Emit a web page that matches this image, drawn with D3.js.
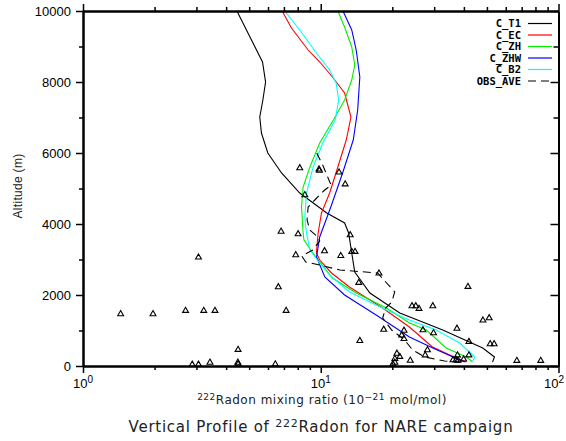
<!DOCTYPE html>
<html>
<head>
<meta charset="utf-8">
<script src="https://cdn.jsdelivr.net/npm/d3@7"></script>
<style>
  body { margin: 0; background: #fff; }
  svg { display: block; }
</style>
</head>
<body>
<svg id="chart" width="566" height="441"></svg>
<script>
// Perfiles de los modelos: altitud (m) y razón de mezcla (1e-21 mol/mol)
const t1Alt = [10000, 8563, 8000, 7493, 7014, 6563, 6000, 5437, 4873, 4310, 4028, 3746, 3183, 2648, 2056, 1493, 1014, 507, 254, 113];
const t1Val = [4.44, 5.69, 5.86, 5.71, 5.54, 5.63, 5.99, 6.84, 8.16, 10.6, 12.6, 13.1, 13.5, 13.9, 16.1, 21.5, 32.6, 48.0, 53.8, 52.8];

const ecAlt = [10000, 9521, 8901, 8563, 8141, 7690, 7014, 6366, 5606, 4873, 4310, 3746, 3183, 2986, 2620, 2225, 1634, 1099, 535, 225, 113];
const ecVal = [6.88, 7.53, 8.85, 9.91, 11.2, 12.6, 13.4, 12.8, 11.8, 10.9, 10.07, 9.75, 9.59, 9.9, 11.1, 13.2, 18.2, 23.6, 29.5, 37.2, 41.0];

const zhAlt = [10000, 9549, 8986, 8479, 8056, 7493, 6930, 6282, 5606, 5042, 4479, 3746, 3549, 3183, 2479, 2056, 1634, 1211, 1014, 507, 254, 113];
const zhVal = [11.8, 12.6, 13.5, 13.9, 13.5, 12.6, 11.3, 9.9, 9.0, 8.43, 8.30, 8.43, 8.5, 9.26, 11.2, 14.1, 18.9, 23.6, 27.8, 33.7, 41.0, 43.5];

const zhwAlt = [10000, 9465, 8901, 8141, 7211, 6366, 5465, 4535, 3634, 3070, 2507, 2000, 1437, 817, 507, 254, 113];
const zhwVal = [12.4, 13.5, 14.1, 14.6, 14.3, 13.7, 12.4, 11.1, 9.9, 9.6, 10.4, 12.6, 17.1, 23.6, 29.6, 36.0, 40.3];

const b2Alt = [10000, 9465, 8817, 8338, 7972, 7493, 6930, 6282, 5606, 4873, 4197, 3746, 3268, 2901, 2563, 2085, 1577, 1296, 1014, 648, 254, 113];
const b2Val = [7.06, 8.16, 9.59, 10.9, 11.6, 11.9, 11.5, 10.2, 9.29, 8.71, 8.57, 8.71, 9.0, 9.9, 10.9, 13.2, 18.9, 23.6, 30.6, 38.4, 44.4, 43.5];

// Promedio de observaciones
const obsAlt = [6000, 5662, 5183, 5099, 4958, 4676, 4479, 4113, 3831, 3634, 3521, 3268, 3099, 2930, 2845, 2704, 2620, 2366, 2085, 1803, 1634, 1352, 1014, 732, 451, 254, 141, 99];
const obsVal = [9.62, 10.19, 10.91, 11.09, 10.39, 9.44, 8.85, 8.76, 8.99, 9.71, 9.90, 9.25, 8.32, 8.65, 9.90, 12.02, 17.36, 18.76, 20.47, 19.88, 18.76, 18.22, 19.88, 22.54, 24.35, 27.35, 33.19, 39.12];

// Observaciones individuales (triángulos)
const ptVal = [1.44, 1.97, 2.70, 3.22, 3.59, 3.06, 4.49, 2.88, 3.06, 3.42, 4.48, 4.49, 6.44, 6.63, 7.15, 6.81, 8.03, 7.85,
  8.16, 9.83, 9.87, 11.94, 12.67, 8.57, 13.30, 10.37, 12.14, 13.50, 13.94, 17.58, 14.45, 41.6, 24.2, 25.1, 25.9, 29.6,
  48.1, 51.1, 37.4, 18.4, 22.4, 26.9, 29.8, 21.9, 22.4, 14.6, 42.0, 51.6, 53.6, 28.1, 20.9, 21.5, 27.5, 37.6, 42.0,
  20.5, 23.8, 36.0, 37.1, 37.8, 39.9, 20.1, 66.8, 84.2, 20.5];
const ptAlt = [1465, 1465, 1558, 1558, 1558, 3062, 459, 42, 42, 99, 99, 56, 51, 2225, 1558, 3789, 3718, 3127,
  5577, 5541, 5507, 5456, 5121, 4817, 3690, 3239, 3104, 3220, 3220, 2611, 2346, 2234, 1690, 1690, 1614, 1690,
  1287, 1352, 1056, 1028, 1000, 1014, 930, 865, 766, 710, 682, 620, 620, 451, 352, 262, 304, 304, 304,
  206, 155, 169, 169, 155, 189, 56, 149, 149, 99];

const seriesNames = ["C_T1", "C_EC", "C_ZH", "C_ZHW", "C_B2", "OBS_AVE"];
const seriesColors = ["#000000", "#ff0000", "#00ee00", "#0000ff", "#00ffff", "#000000"];

const yMajor = [0, 2000, 4000, 6000, 8000, 10000];
const yMinor = [1000, 3000, 5000, 7000, 9000];
const xMajor = [1, 10, 100];
const xMinor = [2, 3, 4, 5, 6, 7, 8, 9, 20, 30, 40, 50, 60, 70, 80, 90];

const svg = d3.select("#chart");
const pLeft = 83, pRight = 558.5, pTop = 11, pBottom = 366;

const x = d3.scaleLog().domain([1, 100]).range([pLeft, pRight]);
const y = d3.scaleLinear().domain([0, 10000]).range([pBottom, pTop]);

const series = [
  [t1Alt, t1Val], [ecAlt, ecVal], [zhAlt, zhVal], [zhwAlt, zhwVal], [b2Alt, b2Val], [obsAlt, obsVal]
];

const line = d3.line().x(d => x(d[1])).y(d => y(d[0]));

svg.append("clipPath").attr("id", "clip")
  .append("rect").attr("x", pLeft).attr("y", pTop).attr("width", pRight - pLeft).attr("height", pBottom - pTop);

const plot = svg.append("g").attr("clip-path", "url(#clip)");

series.forEach((s, i) => {
  const pts = s[0].map((a, k) => [a, s[1][k]]);
  plot.append("path")
    .attr("d", line(pts))
    .attr("fill", "none")
    .attr("stroke", seriesColors[i])
    .attr("stroke-width", 1.1)
    .attr("stroke-dasharray", i === 5 ? "8,5" : null);
});

// Triángulos
const tri = d3.symbol().type(d3.symbolTriangle).size(15);
plot.selectAll("path.obs")
  .data(ptVal.map((v, k) => [ptAlt[k], v]))
  .enter()
  .append("path")
  .attr("class", "obs")
  .attr("d", tri)
  .attr("transform", d => `translate(${x(d[1])},${y(d[0])})`)
  .attr("fill", "none")
  .attr("stroke", "#000")
  .attr("stroke-width", 1.1);

// Ejes
function styleAxis(g) {
  g.select(".domain").attr("stroke-width", 2);
  g.selectAll(".tick line").attr("stroke-width", 1.5);
}

svg.append("g").attr("transform", `translate(${pLeft},0)`)
  .call(d3.axisLeft(y).tickValues(yMinor).tickSize(4).tickSizeOuter(0).tickFormat(""))
  .call(styleAxis);
svg.append("g").attr("transform", `translate(${pLeft},0)`)
  .call(d3.axisLeft(y).tickValues(yMajor).tickSize(7).tickSizeOuter(0).tickPadding(5).tickFormat(d3.format("d")))
  .call(styleAxis)
  .selectAll("text")
  .attr("font-family", "Liberation Sans, Arial, sans-serif")
  .attr("font-size", 13)
  .attr("fill", "#000");

svg.append("g").attr("transform", `translate(${pRight},0)`)
  .call(d3.axisRight(y).tickValues(yMinor).tickSize(-5).tickSizeOuter(0).tickFormat(""))
  .call(styleAxis);
svg.append("g").attr("transform", `translate(${pRight},0)`)
  .call(d3.axisRight(y).tickValues(yMajor).tickSize(-8).tickSizeOuter(0).tickFormat(""))
  .call(styleAxis);

svg.append("g").attr("transform", `translate(0,${pTop})`)
  .call(d3.axisTop(x).tickValues(xMinor).tickSize(4).tickSizeOuter(0).tickFormat(""))
  .call(styleAxis);
svg.append("g").attr("transform", `translate(0,${pTop})`)
  .call(d3.axisTop(x).tickValues(xMajor).tickSize(7).tickSizeOuter(0).tickFormat(""))
  .call(styleAxis);

svg.append("g").attr("transform", `translate(0,${pBottom})`)
  .call(d3.axisBottom(x).tickValues(xMinor).tickSize(4).tickSizeOuter(0).tickFormat(""))
  .call(styleAxis);
svg.append("g").attr("transform", `translate(0,${pBottom})`)
  .call(d3.axisBottom(x).tickValues(xMajor).tickSize(7).tickSizeOuter(0).tickFormat(""))
  .call(styleAxis);

// Etiquetas del eje x con exponente (la última se ajusta para no salir del borde)
xMajor.forEach(v => {
  const px = Math.min(x(v), 554);
  const t = svg.append("text")
    .attr("x", px)
    .attr("y", 388)
    .attr("text-anchor", "middle")
    .attr("font-family", "Liberation Sans, Arial, sans-serif")
    .attr("font-size", 13);
  t.append("tspan").text("10");
  t.append("tspan").attr("dy", -5).attr("font-size", 10).text(Math.round(Math.log10(v)));
});

// Títulos
const xt = svg.append("text")
  .attr("x", 322).attr("y", 404)
  .attr("text-anchor", "middle")
  .attr("font-family", "DejaVu Sans, sans-serif")
  .attr("font-size", 12)
  .attr("letter-spacing", 0.5)
  .attr("fill", "#222");
xt.append("tspan").attr("font-size", 9).attr("dy", -4).text("222");
xt.append("tspan").attr("dy", 4).text("Radon mixing ratio (10");
xt.append("tspan").attr("font-size", 9).attr("dy", -4).text("\u221221");
xt.append("tspan").attr("dy", 4).text(" mol/mol)");

svg.append("text")
  .attr("transform", "translate(22,186) rotate(-90)")
  .attr("text-anchor", "middle")
  .attr("font-family", "Liberation Sans, Arial, sans-serif")
  .attr("font-size", 12)
  .attr("letter-spacing", 0.3)
  .attr("fill", "#222")
  .text("Altitude (m)");

const tt = svg.append("text")
  .attr("x", 321).attr("y", 432)
  .attr("text-anchor", "middle")
  .attr("font-family", "DejaVu Sans, sans-serif")
  .attr("font-size", 15)
  .attr("letter-spacing", 0.75)
  .attr("fill", "#222");
tt.append("tspan").text("Vertical Profile of ");
tt.append("tspan").attr("font-size", 11).attr("dy", -5).text("222");
tt.append("tspan").attr("dy", 5).text("Radon for NARE campaign");

// Leyenda
const legend = svg.append("g");
seriesNames.forEach((name, i) => {
  const ly = 23.5 + i * 11.5;
  legend.append("text")
    .attr("x", 521).attr("y", ly + 3.5)
    .attr("text-anchor", "end")
    .attr("font-family", "DejaVu Sans Mono, monospace")
    .attr("font-weight", "bold")
    .attr("font-size", 10.5)
    .text(name);
  legend.append("line")
    .attr("x1", 528).attr("x2", 552)
    .attr("y1", ly).attr("y2", ly)
    .attr("stroke", seriesColors[i])
    .attr("stroke-width", 1.2)
    .attr("stroke-dasharray", i === 5 ? "8,5" : null);
});
</script>
</body>
</html>
